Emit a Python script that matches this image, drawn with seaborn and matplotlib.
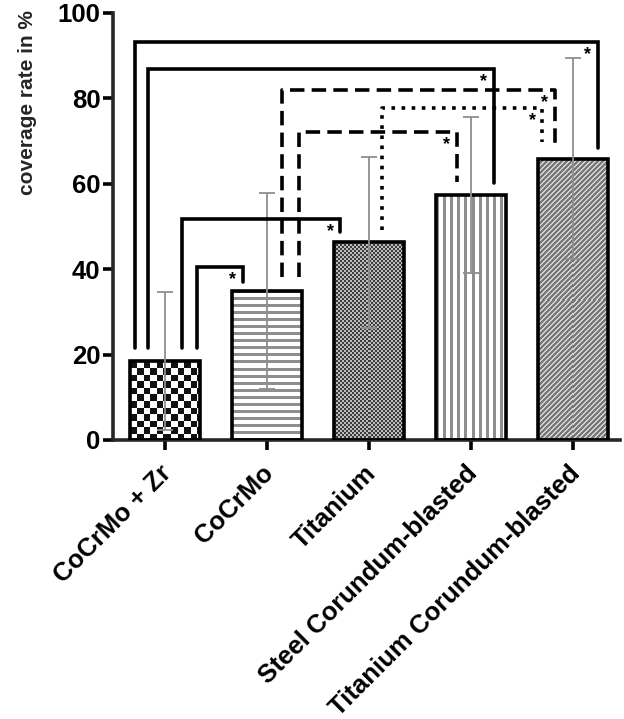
import numpy as np
import pandas as pd
import matplotlib
matplotlib.use("Agg")
import matplotlib.pyplot as plt
import matplotlib.colors as mcolors
import matplotlib.transforms as mtransforms
import seaborn as sns
from matplotlib.patches import Rectangle

# ---------------- data ----------------
categories = ["CoCrMo + Zr", "CoCrMo", "Titanium",
              "Steel Corundum-blasted", "Titanium Corundum-blasted"]
means = [18.5, 34.9, 46.3, 57.4, 65.9]
sds = [16.2, 23.0, 20.0, 18.2, 23.5]
yticks = [0, 20, 40, 60, 80, 100]

# significance comparisons (group i, group j)
comp_left = [0, 0, 1, 2, 1, 0, 0]
comp_right = [4, 3, 4, 4, 3, 2, 1]
comp_top = [93.2, 86.9, 82.0, 77.7, 72.1, 51.8, 40.5]
comp_left_end = [21.5, 21.5, 38.2, 49.2, 38.2, 21.5, 21.5]
comp_right_end = [68.4, 60.2, 68.6, 69.8, 60.4, 48.7, 37.0]
comp_label = ["*"] * 7

# ---------------- style ----------------
sns.set_style("ticks")
plt.rcParams["font.family"] = ["Liberation Sans", "DejaVu Sans"]
plt.rcParams["font.weight"] = "bold"

fig = plt.figure(figsize=(6.24, 7.19), dpi=100)
ax = fig.add_axes([113 / 624, 1 - 440 / 719, (620 - 113) / 624, 427 / 719])

df = pd.DataFrame({"group": categories, "coverage": means})
sns.barplot(data=df, x="group", y="coverage", order=categories,
            color="white", width=0.68, errorbar=None, ax=ax, saturation=1)
ax.set_xlim(-0.51, 4.46)
ax.set_ylim(0, 100)


def rgb(c):
    return np.array(mcolors.to_rgb(c))


def texture(kind, wpx, hpx):
    yy, xx = np.mgrid[0:hpx, 0:wpx]
    if kind == "checker":
        m = ((xx // 6.6 + yy // 6.6) % 2) == 0
        a, b = rgb("#111111"), rgb("white")
    elif kind == "fine":
        m = ((xx // 2 + yy // 2) % 2) == 0
        a, b = rgb("#3c3c3c"), rgb("#bdbdbd")
    elif kind == "hlines":
        m = (yy % 7) < 3
        a, b = rgb("#8e8e8e"), rgb("white")
    elif kind == "vlines":
        m = (xx % 7) < 3
        a, b = rgb("#8e8e8e"), rgb("white")
    else:  # diagonal "/"
        m = ((xx + yy) % 5) < 2.5
        a, b = rgb("#787878"), rgb("#d2d2d2")
    return np.where(m[..., None], a, b)


patterns = ["checker", "hlines", "fine", "vlines", "diag"]
for i, p in enumerate(ax.patches[:5]):
    x0, y0 = p.get_xy()
    w, h = p.get_width(), p.get_height()
    (px0, py0) = ax.transData.transform((x0, y0))
    (px1, py1) = ax.transData.transform((x0 + w, y0 + h))
    wpx, hpx = int(round(px1 - px0)), int(round(py1 - py0))
    ax.imshow(texture(patterns[i], wpx, hpx), extent=(x0, x0 + w, y0, y0 + h),
              aspect="auto", interpolation="nearest", zorder=1.5)
    ax.add_patch(Rectangle((x0, y0), w, h, fill=False, ec="black",
                           lw=2.6, zorder=3))

ax.errorbar(x=np.arange(len(categories)), y=means, yerr=sds, fmt="none",
            ecolor="#8f8f8f", elinewidth=1.3, capsize=6, capthick=1.3,
            zorder=4)

# significance brackets
left_off = [-0.29, -0.17, 0.15, 0.13, 0.31, 0.17, 0.31]
right_off = [0.24, 0.22, -0.18, -0.30, -0.14, -0.28, -0.24]
styles = ["solid", "solid", (0, (4.0, 2.0)), (0, (1.0, 1.8)),
          (0, (4.0, 2.0)), "solid", "solid"]
for k in range(len(comp_left)):
    xl = comp_left[k] + left_off[k]
    xr = comp_right[k] + right_off[k]
    ax.plot([xl, xl, xr, xr],
            [comp_left_end[k], comp_top[k], comp_top[k], comp_right_end[k]],
            color="black", lw=2.6, ls=styles[k], solid_joinstyle="miter",
            dash_capstyle="butt", zorder=5, clip_on=False)
    ax.text(xr - 0.1, comp_top[k] - 3.0, comp_label[k], ha="center",
            va="center", fontsize=13, color="black", zorder=6)

sns.despine(ax=ax)
for s in ["left", "bottom"]:
    ax.spines[s].set_linewidth(2.6)
ax.tick_params(axis="both", direction="out", length=7, width=2.6,
               colors="black", pad=2)

ax.set_xlim(-0.51, 4.46)
ax.set_ylim(0, 100)
ax.set_yticks(yticks)
ax.set_yticklabels([str(v) for v in yticks], fontsize=18.5, fontweight="bold")
ax.set_xticks(range(len(categories)))
ax.set_xticklabels(categories, rotation=45, ha="right",
                   rotation_mode="anchor", fontsize=18.5, fontweight="bold")
shift = mtransforms.ScaledTranslation(-4.0 / 72, -6.0 / 72, fig.dpi_scale_trans)
for lbl in ax.get_xticklabels():
    lbl.set_transform(lbl.get_transform() + shift)
ax.set_xlabel("")
ax.set_ylabel("coverage rate in %", fontsize=15, fontweight="bold")
ax.yaxis.set_label_coords(-0.15, 0.79)

fig.savefig("out.png", dpi=100)
